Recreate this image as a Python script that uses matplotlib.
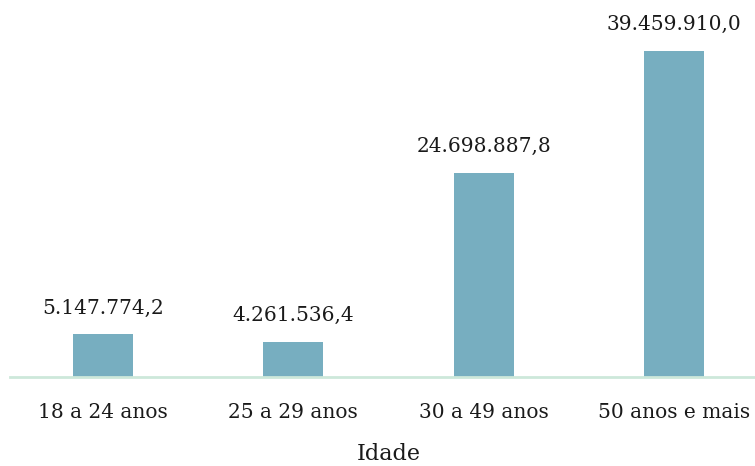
import numpy as np
import matplotlib.pyplot as plt

faixas = ["18 a 24 anos", "25 a 29 anos", "30 a 49 anos", "50 anos e mais"]
valores = [5147774.2, 4261536.4, 24698887.8, 39459910.0]


def fmt_br(v):
    # 39459910.0 -> "39.459.910,0"
    s = f"{v:,.1f}"
    return s.replace(",", "X").replace(".", ",").replace("X", ".")


plt.rcParams['font.family'] = ['DejaVu Serif']

fig = plt.figure(figsize=(7.55, 4.66), dpi=100)
ax = fig.add_axes([10 / 755, 1 - 377 / 466, 1 - 10 / 755, 377 / 466])

x = np.arange(len(faixas))
bars = ax.bar(x, valores, width=0.315, color="#77AEC0", zorder=2)

for b, v in zip(bars, valores):
    ax.annotate(fmt_br(v), (b.get_x() + b.get_width() / 2, v),
                xytext=(0, 12), textcoords='offset points',
                ha='center', va='bottom', fontsize=14.5, color='#1a1a1a')

ax.set_xlim(-0.488, 3.425)
ax.set_ylim(0, 39459910.0 * 377 / 326)

for side in ['top', 'right', 'left']:
    ax.spines[side].set_visible(False)
ax.spines['bottom'].set_color('#CDE8DA')
ax.spines['bottom'].set_linewidth(2)
ax.spines['bottom'].set_zorder(3)

ax.set_yticks([])
ax.set_xticks(x)
ax.set_xticklabels(faixas, fontsize=14.5, color='#1a1a1a')
ax.tick_params(axis='x', length=0, pad=19)
ax.set_xlabel("Idade", fontsize=16, color='#1a1a1a')
ax.xaxis.set_label_coords(0.508, -0.175)

fig.savefig("out.png", dpi=100)
